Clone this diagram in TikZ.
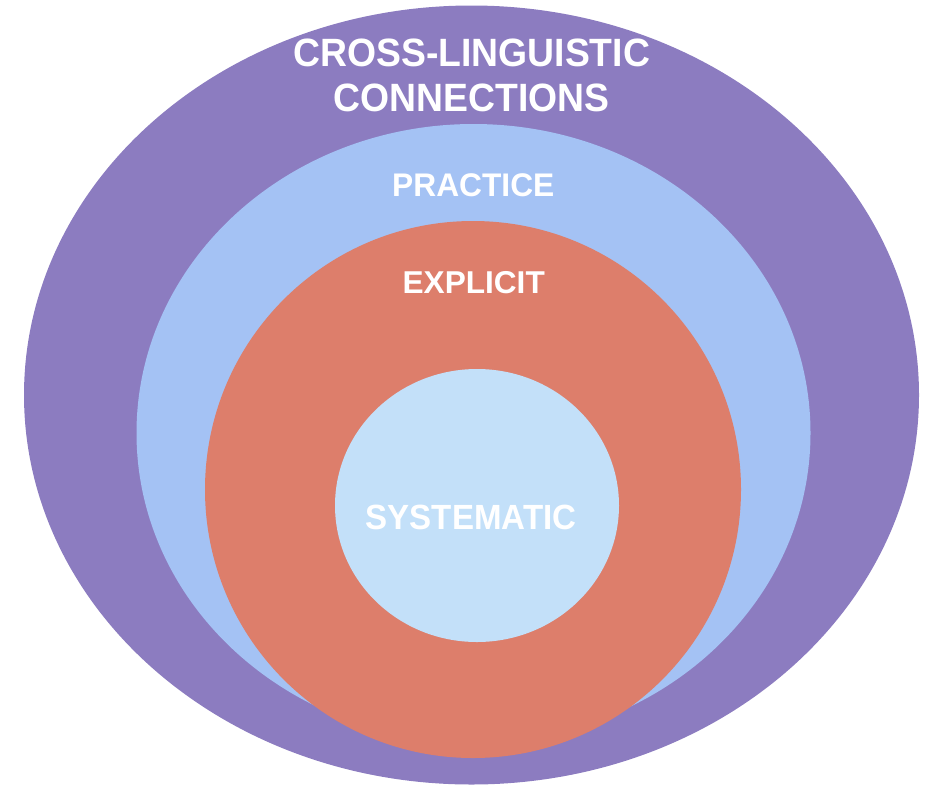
\documentclass[tikz,border=0pt]{standalone}
\usepackage{fontspec}
\newfontfamily\lblA[FakeStretch=0.945]{Liberation Sans}
\newfontfamily\lblB[FakeStretch=0.97]{Liberation Sans}
\newfontfamily\lblC{Liberation Sans}
\definecolor{cpurple}{HTML}{8C7CC0}
\definecolor{cblue}{HTML}{A4C2F4}
\definecolor{cred}{HTML}{DD7E6B}
\definecolor{cpale}{HTML}{C3E0F9}
\tikzset{
  lbl/.style={text=white, anchor=base, inner sep=0pt},
  big/.style={lbl, font=\lblA\bfseries\fontsize{39.5}{44}\selectfont},
}
\begin{document}
\begin{tikzpicture}[x=1pt,y=-1pt]
\useasboundingbox (0,0) rectangle (928,785);
\fill[cpurple] (471.5,395) ellipse [x radius=447.5, y radius=389.5];
\fill[cblue] (473.5,433) ellipse [x radius=337, y radius=309];
\fill[cred] (473,489.5) ellipse [x radius=268, y radius=268.5];
\fill[cpale] (477,505.5) ellipse [x radius=142, y radius=136.5];
\node[big] (cl) at (471.7,66) {CROSS-LINGUISTIC};
\node[big] (cn) at (471.7,111.7) {CONNECTIONS};
\node[lbl, font=\lblB\bfseries\fontsize{32.7}{36}\selectfont] (pr) at (473.3,196.7) {PRACTICE};
\node[lbl, font=\lblC\bfseries\fontsize{31.6}{36}\selectfont] (ex) at (473.7,293.3) {EXPLICIT};
\node[lbl, font=\lblA\bfseries\fontsize{35}{40}\selectfont] (sy) at (471,529) {SYSTEMATIC};
\end{tikzpicture}
\end{document}
